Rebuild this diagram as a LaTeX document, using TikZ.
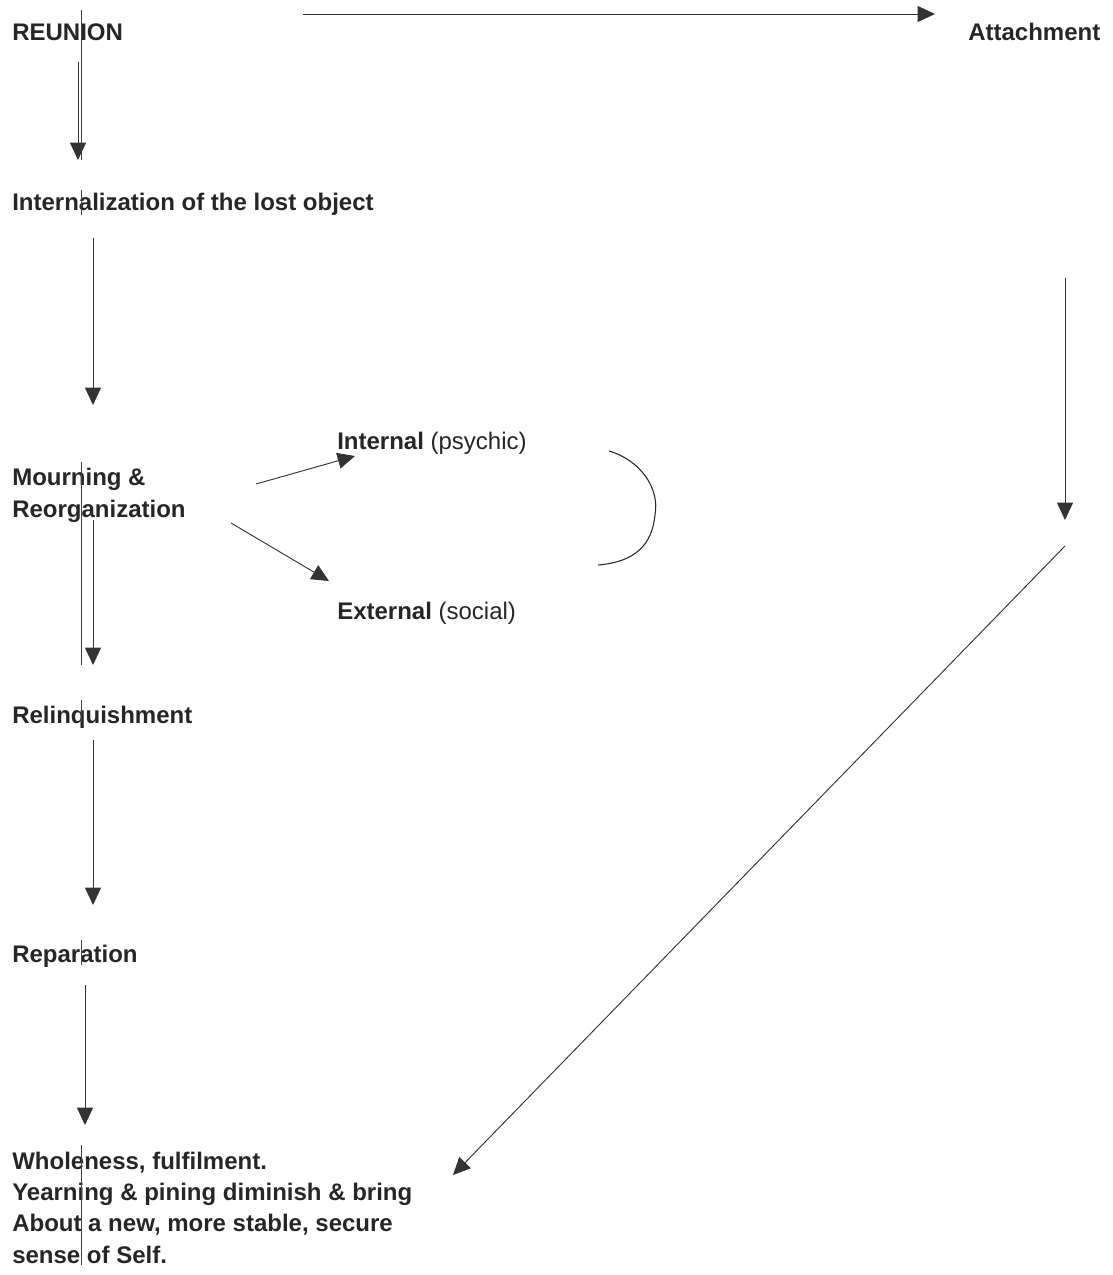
\documentclass[tikz,border=0pt]{standalone}
\usepackage{fontspec}
\setmainfont{Liberation Sans}
\usetikzlibrary{arrows.meta, positioning, calc}

\begin{document}
\begin{tikzpicture}[x=0.75pt, y=-0.75pt, font=\fontsize{18}{23.5}\selectfont\bfseries]
    \tikzstyle{stage} = [anchor=base west, inner sep=0pt, align=left, text=black!85]
    \tikzstyle{flow} = [-{Triangle[width=12pt, length=13pt]}, line width=0.7pt, black!80]
    \tikzstyle{crease} = [line width=0.4pt, black!75]

    \useasboundingbox (0,0) rectangle (1113,1275);

    \node [stage] (reunion) at (12,40) {REUNION};
    \node [stage] (attach) at (968,40) {Attachment};
    \node [stage] (intern) at (12,210) {Internalization of the lost object};
    \node [stage] (mourn) at (12,517) {Mourning \&\\Reorganization};
    \node [stage] (psychic) at (337,449) {Internal {\mdseries(psychic)}};
    \node [stage] (social) at (337,619) {External {\mdseries(social)}};
    \node [stage] (relinq) at (12,723) {Relinquishment};
    \node [stage] (repar) at (12,962) {Reparation};
    \node [stage] (whole) at (12,1263) {
        Wholeness, fulfilment.\\
        Yearning \& pining diminish \& bring\\
        About a new, more stable, secure\\
        sense of Self.
    };
    \coordinate (bend) at (1065,533);

    % left column
    \draw[flow] ($(reunion.base west)+(66,22)$) -- ($(intern.base west)+(66,-50)$);
    \draw[flow] ($(intern.base west)+(81,28)$) -- ($(mourn.base west)+(81,-112)$);
    \draw[flow] ($(mourn.base west)+(81,3)$) -- ($(relinq.base west)+(81,-58)$);
    \draw[flow] ($(relinq.base west)+(81,17)$) -- ($(repar.base west)+(81,-57)$);
    \draw[flow] ($(repar.base west)+(73,23)$) -- ($(whole.base west)+(73,-138)$);

    % branches
    \draw[flow] ($(mourn.base west)+(244,-33)$) -- ($(psychic.base west)+(18,7)$);
    \draw[flow] ($(mourn.base west)+(219,6)$) -- ($(social.base west)+(-8,-38)$);
    \draw[line width=0.8pt, black!85] (609,451) .. controls (640,460) and (660,488) .. (655,515)
        .. controls (652,545) and (635,562) .. (598,565);

    % right side
    \draw[flow] ($(reunion.base west)+(291,-26)$) -- ($(attach.base west)+(-33,-26)$);
    \draw[flow] ($(attach.base west)+(97,238)$) -- ($(bend)+(0,-13)$);
    \draw[flow] ($(bend)+(0,13)$) -- ($(whole.base west)+(441,-88)$);

    % thin creases
    \draw[crease] (81,10) -- (81,160);
    \draw[crease] (81,190) -- (81,215);
    \draw[crease] (81,462) -- (81,665);
    \draw[crease] (81,700) -- (81,722);
    \draw[crease] (81,940) -- (81,965);
    \draw[crease] (81,1145) -- (81,1265);
\end{tikzpicture}
\end{document}
